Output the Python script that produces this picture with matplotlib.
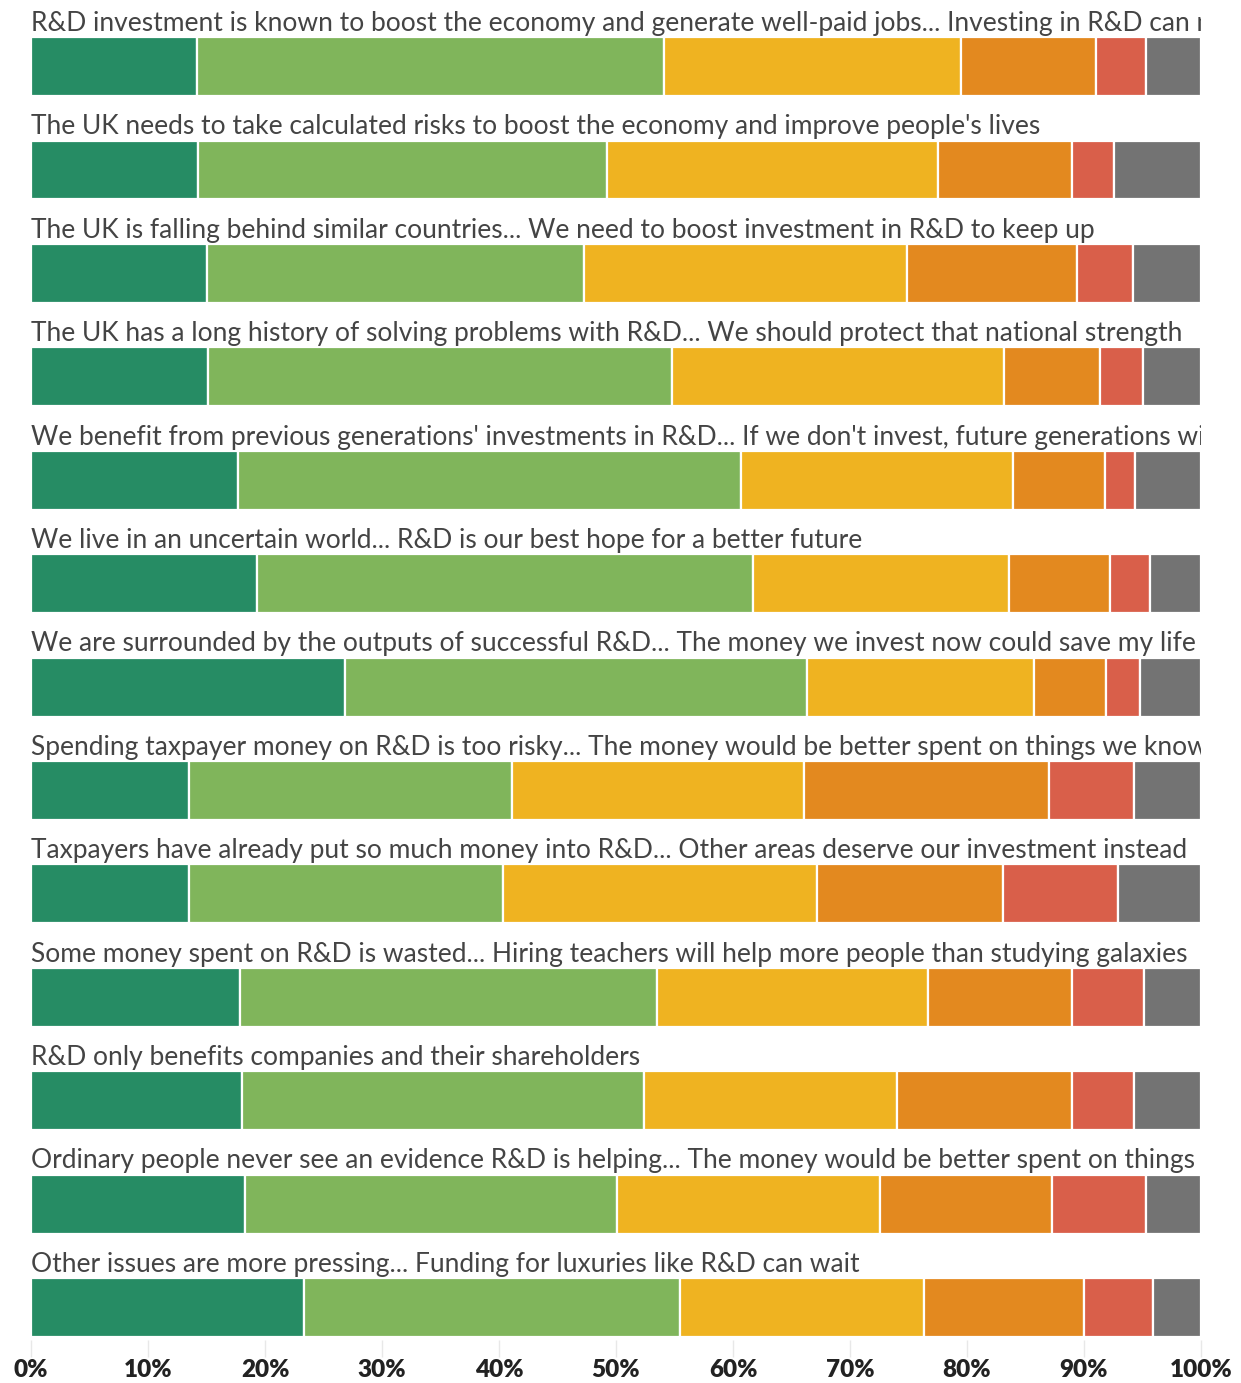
import matplotlib
matplotlib.use("Agg")
import matplotlib.pyplot as plt
import numpy as np

# ---- data ----
statements = [
    "R&D investment is known to boost the economy and generate well-paid jobs... Investing in R&D can make",
    "The UK needs to take calculated risks to boost the economy and improve people's lives",
    "The UK is falling behind similar countries... We need to boost investment in R&D to keep up",
    "The UK has a long history of solving problems with R&D... We should protect that national strength",
    "We benefit from previous generations' investments in R&D... If we don't invest, future generations will",
    "We live in an uncertain world... R&D is our best hope for a better future",
    "We are surrounded by the outputs of successful R&D... The money we invest now could save my life",
    "Spending taxpayer money on R&D is too risky... The money would be better spent on things we know",
    "Taxpayers have already put so much money into R&D... Other areas deserve our investment instead",
    "Some money spent on R&D is wasted... Hiring teachers will help more people than studying galaxies",
    "R&D only benefits companies and their shareholders",
    "Ordinary people never see an evidence R&D is helping... The money would be better spent on things we know",
    "Other issues are more pressing... Funding for luxuries like R&D can wait",
]
strongly_convincing = [14.2, 14.3, 15.0, 15.1, 17.7, 19.3, 26.8, 13.5, 13.5, 17.9, 18.0, 18.3, 23.3]
fairly_convincing   = [39.9, 34.9, 32.3, 39.7, 43.0, 42.4, 39.5, 27.6, 26.8, 35.6, 34.4, 31.8, 32.2]
neither             = [25.4, 28.3, 27.6, 28.4, 23.2, 21.9, 19.4, 25.0, 26.9, 23.2, 21.6, 22.5, 20.8]
not_very            = [11.5, 11.5, 14.5,  8.2,  7.9,  8.6,  6.2, 20.9, 15.9, 12.3, 15.0, 14.7, 13.7]
not_at_all          = [ 4.3,  3.6,  4.8,  3.6,  2.6,  3.4,  2.9,  7.3,  9.8,  6.1,  5.3,  8.0,  5.9]
dont_know           = [ 4.7,  7.4,  5.8,  5.0,  5.6,  4.4,  5.2,  5.7,  7.1,  4.9,  5.7,  4.7,  4.1]
series = [strongly_convincing, fairly_convincing, neither, not_very, not_at_all, dont_know]
colors = ["#268c64", "#80b55b", "#efb321", "#e3891f", "#d95f4a", "#737373"]
tick_values = [0, 10, 20, 30, 40, 50, 60, 70, 80, 90, 100]

# ---- figure ----
W, H = 1241, 1383
fig = plt.figure(figsize=(W / 100, H / 100), dpi=100)
fig.patch.set_facecolor("white")
ax = fig.add_axes([31 / W, (H - 1340) / H, 1170 / W, 1340 / H])

y = np.arange(len(statements))
bar_h = 0.57
left = np.zeros(len(statements))
for vals, col in zip(series, colors):
    vals = np.array(vals)
    ax.barh(y, vals, left=left, height=bar_h, color=col, edgecolor="white", linewidth=1.6, zorder=2)
    left += vals

ax.set_xlim(0, 100)
ax.set_ylim(12.314, -0.644)

# font size calibration for labels
family = ["Lato", "DejaVu Sans"]
renderer = fig.canvas.get_renderer()
probe = ax.text(0, 0, statements[1], fontsize=20, family=family)
wpx = probe.get_window_extent(renderer=renderer).width
probe.remove()
fs = 20 * 1007 / wpx

for i, s in enumerate(statements):
    ax.text(0, i - bar_h / 2 - 0.06, s, fontsize=fs, family=family, color="#444444",
            ha="left", va="baseline", clip_on=True, zorder=3)

ax.set_yticks([])
ax.set_xticks(tick_values)
ax.set_xticklabels([f"{v}%" for v in tick_values], fontsize=17.5, fontweight="heavy",
                   family=family, color="#222222")
ax.tick_params(axis="x", length=12, width=1, color="#e8e8e8", pad=2)
for sp in ax.spines.values():
    sp.set_visible(False)

fig.savefig("out.png", dpi=100, facecolor="white")
